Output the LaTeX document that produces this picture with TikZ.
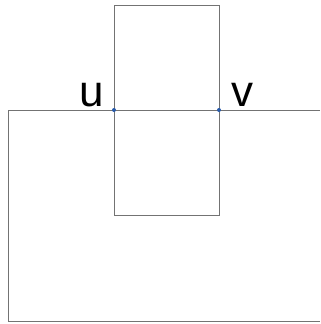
\documentclass[tikz,border=0pt]{standalone}
\usepackage{fontspec}
\setsansfont{Liberation Sans}
\usetikzlibrary{positioning}
\definecolor{ptblue}{RGB}{40,90,170}

\begin{document}
\begin{tikzpicture}[
    x=1pt, y=-1pt,
    edge/.style={draw=black!55, line width=0.9pt},
    pt/.style={circle, fill=ptblue, inner sep=0pt, minimum size=4pt},
    lbl/.style={font=\fontsize{44}{44}\selectfont\sffamily, inner sep=0pt, anchor=base}
]
\useasboundingbox (0,0) rectangle (321,324);

% corners of the two frames
\coordinate (a) at (320,110);
\coordinate (b) at (8,110);
\coordinate (c) at (8,321);
\coordinate (d) at (320,321);
\coordinate (s1) at (114,5);
\coordinate (s2) at (219,5);
\coordinate (s3) at (219,215);
\coordinate (s4) at (114,215);

% open frame
\draw[edge] (a) -- (b) -- (c) -- (d);
% small rectangle
\draw[edge] (s1) -- (s2) -- (s3) -- (s4) -- cycle;

% marked points
\node[pt] (u) at (114,110) {};
\node[pt] (v) at (219,110) {};
\node[lbl] (ulabel) at (92,106) {u};
\node[lbl] (vlabel) at (242,106) {v};
\end{tikzpicture}
\end{document}
